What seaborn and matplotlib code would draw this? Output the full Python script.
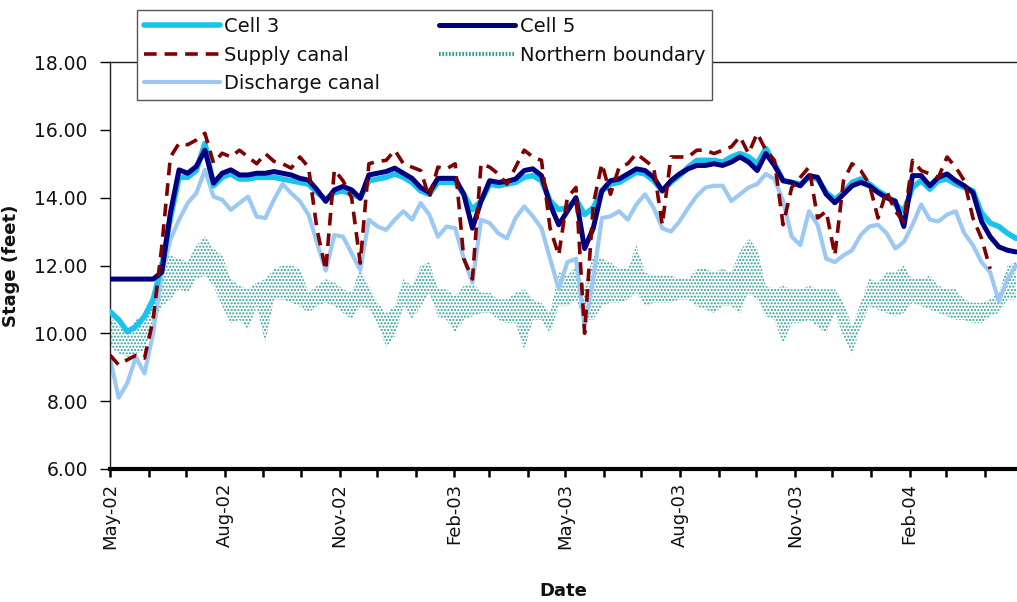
import numpy as np
import pandas as pd
import matplotlib
matplotlib.use("Agg")
import matplotlib.pyplot as plt
import matplotlib.dates as mdates
from matplotlib.lines import Line2D
from matplotlib.ticker import FormatStrFormatter
import seaborn as sns

# roughly weekly sample dates starting May 1, 2002
dates = pd.date_range("2002-05-01", periods=106, freq="166h")

cell5 = [11.6, 11.6, 11.6, 11.6, 11.6, 11.6, 11.8, 13.55, 14.82, 14.72,
         14.92, 15.4, 14.43, 14.72, 14.82, 14.67, 14.67, 14.72, 14.72, 14.77,
         14.72, 14.67, 14.57, 14.52, 14.23, 13.89, 14.23, 14.33, 14.23, 13.98,
         14.67, 14.72, 14.77, 14.87, 14.72, 14.57, 14.3, 14.15, 14.57, 14.57,
         14.57, 14.1, 13.1, 13.9, 14.5, 14.45, 14.48, 14.55, 14.8, 14.85,
         14.65, 13.8, 13.2, 13.6, 14.0, 12.5, 13.1, 14.2, 14.5, 14.55,
         14.7, 14.85, 14.8, 14.6, 14.2, 14.5, 14.7, 14.85, 14.95, 14.95,
         15.0, 14.95, 15.05, 15.2, 15.05, 14.8, 15.3, 14.95, 14.5, 14.45,
         14.35, 14.65, 14.6, 14.1, 13.85, 14.1, 14.35, 14.45, 14.35, 14.15,
         14.0, 13.9, 13.15, 14.65, 14.65, 14.35, 14.6, 14.7, 14.5, 14.35,
         14.15, 13.3, 12.85, 12.55, 12.45, 12.4]

cell3 = [10.64, 10.4, 10.05, 10.2, 10.5, 11.0, 12.0, 13.4, 14.6, 14.6,
         14.8, 15.6, 14.35, 14.6, 14.7, 14.55, 14.55, 14.6, 14.6, 14.6,
         14.55, 14.5, 14.45, 14.4, 14.15, 13.95, 14.15, 14.2, 14.1, 14.0,
         14.5, 14.55, 14.6, 14.7, 14.6, 14.45, 14.2, 14.1, 14.45, 14.45,
         14.45, 14.1, 13.65, 13.9, 14.4, 14.35, 14.4, 14.45, 14.6, 14.65,
         14.5, 13.9, 13.65, 13.7, 13.95, 13.5, 13.7, 14.2, 14.4, 14.45,
         14.6, 14.75, 14.7, 14.5, 14.2, 14.45, 14.65, 14.9, 15.1, 15.1,
         15.1, 15.05, 15.2, 15.3, 15.2, 15.0, 15.45, 15.0, 14.5, 14.45,
         14.4, 14.6, 14.55, 14.15, 13.95, 14.15, 14.45, 14.55, 14.4, 14.2,
         14.05, 13.8, 13.6, 14.3, 14.5, 14.25, 14.5, 14.55, 14.4, 14.3,
         14.2, 13.55, 13.25, 13.15, 12.95, 12.8]

supply = [9.36, 9.07, 9.22, 9.35, 9.27, 10.4, 12.56, 15.2, 15.6, 15.56,
          15.7, 15.9, 15.02, 15.31, 15.2, 15.4, 15.2, 15.0, 15.3, 15.07,
          15.0, 14.87, 15.2, 14.9, 13.05, 11.87, 14.82, 14.5, 14.0, 12.07,
          15.0, 15.07, 15.1, 15.4, 15.0, 14.9, 14.8, 14.0, 14.9, 14.85,
          15.0, 12.2, 11.6, 15.0, 14.9, 14.7, 14.4, 14.9, 15.4, 15.2,
          15.1, 13.1, 12.3, 14.0, 14.3, 10.0, 13.8, 15.0, 14.1, 14.9,
          15.0, 15.3, 15.1, 14.9, 13.2, 15.2, 15.2, 15.2, 15.4, 15.4,
          15.3, 15.4, 15.5, 15.8, 15.3, 15.9, 15.4, 15.1, 13.2, 14.3,
          14.6, 14.9, 13.4, 13.6, 12.3, 14.5, 15.0, 14.8, 14.4, 13.4,
          14.2, 13.6, 13.3, 15.1, 14.8, 14.7, 14.6, 15.2, 14.9, 14.5,
          13.4, 12.8, 11.9, np.nan, np.nan, np.nan]

discharge = [9.27, 8.1, 8.53, 9.3, 8.82, 10.0, 11.77, 12.76, 13.35, 13.84,
             14.13, 14.82, 14.03, 13.94, 13.64, 13.84, 14.03, 13.44, 13.4, 13.94,
             14.4, 14.13, 13.9, 13.5, 12.66, 11.85, 12.9, 12.85, 12.36, 11.87,
             13.35, 13.15, 13.05, 13.35, 13.6, 13.35, 13.84, 13.5, 12.85, 13.15,
             13.1, 12.2, 11.5, 13.35, 13.25, 12.95, 12.8, 13.4, 13.74, 13.45,
             13.1, 12.2, 11.3, 12.1, 12.2, 10.2, 11.6, 13.4, 13.45, 13.6,
             13.35, 13.8, 14.1, 13.7, 13.1, 13.0, 13.3, 13.7, 14.05, 14.3,
             14.35, 14.35, 13.9, 14.1, 14.3, 14.4, 14.7, 14.55, 13.9, 12.85,
             12.6, 13.6, 13.2, 12.2, 12.1, 12.3, 12.45, 12.9, 13.15, 13.2,
             12.95, 12.5, 12.7, 13.2, 13.8, 13.35, 13.3, 13.5, 13.6, 12.95,
             12.6, 12.1, 11.8, 10.95, 11.6, 12.0]

north_low = [9.6, 9.4, 9.3, 9.4, 9.5, 10.2, 10.8, 11.0, 11.3, 11.2,
             11.6, 11.7, 11.4, 10.8, 10.3, 10.4, 10.1, 10.8, 9.7, 11.0,
             11.0, 10.9, 10.8, 10.6, 10.8, 10.9, 10.8, 10.6, 10.4, 10.8,
             10.7, 10.3, 9.6, 9.9, 10.8, 10.4, 10.8, 11.2, 10.5, 10.4,
             10.0, 10.4, 10.5, 10.6, 10.6, 10.4, 10.3, 10.3, 9.5, 10.4,
             10.4, 10.0, 10.8, 10.8, 11.0, 10.4, 10.4, 10.8, 10.9, 10.9,
             11.0, 11.2, 10.8, 10.9, 10.9, 10.9, 11.0, 11.0, 10.8, 10.7,
             10.6, 10.8, 10.8, 10.6, 11.2, 11.0, 10.5, 10.4, 9.7, 10.3,
             10.3, 10.4, 10.2, 10.0, 10.6, 9.9, 9.4, 10.2, 10.8, 10.7,
             10.6, 10.5, 10.6, 10.9, 10.8, 10.7, 10.6, 10.5, 10.4, 10.4,
             10.3, 10.3, 10.5, 10.6, 11.0, 11.0]

north_high = [10.5, 10.2, 10.0, 10.4, 10.5, 11.0, 12.2, 12.3, 12.2, 12.1,
              12.6, 12.85, 12.5, 12.3, 11.6, 11.4, 11.3, 11.5, 11.6, 11.9,
              12.0, 12.0, 11.9, 11.2, 11.4, 11.6, 11.5, 11.3, 11.2, 11.9,
              11.4, 10.9, 10.6, 10.8, 11.6, 11.4, 12.0, 12.1, 11.3, 11.3,
              11.1, 11.4, 11.5, 11.2, 11.2, 11.0, 11.0, 11.2, 11.3, 11.0,
              10.9, 10.6, 11.8, 11.7, 12.0, 11.4, 12.3, 12.2, 12.1, 11.9,
              11.9, 12.6, 11.8, 11.7, 11.7, 11.7, 11.6, 11.6, 11.9, 11.9,
              11.8, 11.9, 11.8, 12.4, 12.8, 12.5, 11.4, 11.3, 11.4, 11.3,
              11.3, 11.4, 11.3, 11.3, 11.3, 10.9, 10.2, 10.9, 11.6, 11.5,
              11.8, 11.8, 12.0, 11.6, 11.6, 11.7, 11.4, 11.3, 11.3, 11.0,
              10.9, 10.9, 11.0, 11.2, 12.0, 12.1]

labels = ["Cell 3", "Cell 5", "Supply canal", "Northern boundary", "Discharge canal"]
ytick_vals = [6, 8, 10, 12, 14, 16, 18]

C_CELL3 = "#19C3EE"
C_CELL5 = "#000080"
C_SUPPLY = "#800000"
C_NORTH = "#2E9E9A"
C_DISCH = "#9CC8F4"

sns.set_theme(style="white")
plt.rcParams["font.family"] = ["DejaVu Sans"]
plt.rcParams["hatch.linewidth"] = 1.0

fig = plt.figure(figsize=(10.17, 6.02), dpi=100)
ax = fig.add_axes([110 / 1017, 1 - 469 / 602, 1 - 110 / 1017, (469 - 62) / 602])

ax.fill_between(dates, north_low, north_high, facecolor="none",
                edgecolor=C_NORTH, hatch=".....", linewidth=0, zorder=1)
sns.lineplot(x=dates, y=discharge, ax=ax, color=C_DISCH, lw=3, zorder=2)
sns.lineplot(x=dates, y=cell3, ax=ax, color=C_CELL3, lw=4, zorder=3)
sns.lineplot(x=dates, y=cell5, ax=ax, color=C_CELL5, lw=3.6, zorder=4)
sns.lineplot(x=dates, y=supply, ax=ax, color=C_SUPPLY, lw=2.6, zorder=5,
             linestyle=(0, (3.5, 2.2)))

ax.set_xlim(pd.Timestamp("2002-05-01"), pd.Timestamp("2004-04-27"))
ax.set_ylim(6, 18)
ax.set_yticks(ytick_vals)
ax.yaxis.set_major_formatter(FormatStrFormatter("%.2f"))
ax.xaxis.set_major_locator(mdates.MonthLocator(bymonth=[2, 5, 8, 11]))
ax.xaxis.set_minor_locator(mdates.MonthLocator())
ax.xaxis.set_major_formatter(mdates.DateFormatter("%b-%y"))
ax.tick_params(axis="x", which="both", direction="out", length=6, width=1.8,
               color="black", bottom=True, labelsize=13, labelrotation=90, pad=4)
ax.tick_params(axis="y", direction="out", length=7, width=1, color="black",
               left=True, labelsize=13.5, pad=9, labelcolor="#111111")
ax.tick_params(axis="x", labelcolor="#111111")

for s in ["left", "top"]:
    ax.spines[s].set_color("#222222")
    ax.spines[s].set_linewidth(1)
ax.spines["bottom"].set_color("black")
ax.spines["bottom"].set_linewidth(3)
ax.spines["right"].set_visible(False)
ax.grid(False)

ax.set_ylabel("Stage (feet)", fontsize=13, fontweight="bold", labelpad=10,
              color="#111111")
ax.set_xlabel("Date", fontsize=13, fontweight="bold", labelpad=24,
              color="#111111")

handles = [
    Line2D([], [], color=C_CELL3, lw=4),
    Line2D([], [], color=C_SUPPLY, lw=2.6, linestyle=(0, (3.5, 2.2))),
    Line2D([], [], color=C_DISCH, lw=3),
    Line2D([], [], color=C_CELL5, lw=3.6),
    Line2D([], [], color=C_NORTH, lw=3, linestyle=(0, (0.4, 0.4))),
]
hl = [labels[0], labels[2], labels[4], labels[1], labels[3]]
leg = fig.legend(handles, hl, ncol=2, loc="upper left",
                 bbox_to_anchor=(137 / 1017, 1 - 10 / 602), borderaxespad=0,
                 fontsize=14, frameon=True, fancybox=False, handlelength=3.9,
                 handletextpad=0.25, columnspacing=3.0, labelspacing=0.5,
                 borderpad=0.35)
for t in leg.get_texts():
    t.set_color("#111111")
leg.get_frame().set_edgecolor("#555555")
leg.get_frame().set_linewidth(1)
leg.get_frame().set_facecolor("white")
leg.get_frame().set_alpha(1)

fig.savefig("out.png", dpi=100)
